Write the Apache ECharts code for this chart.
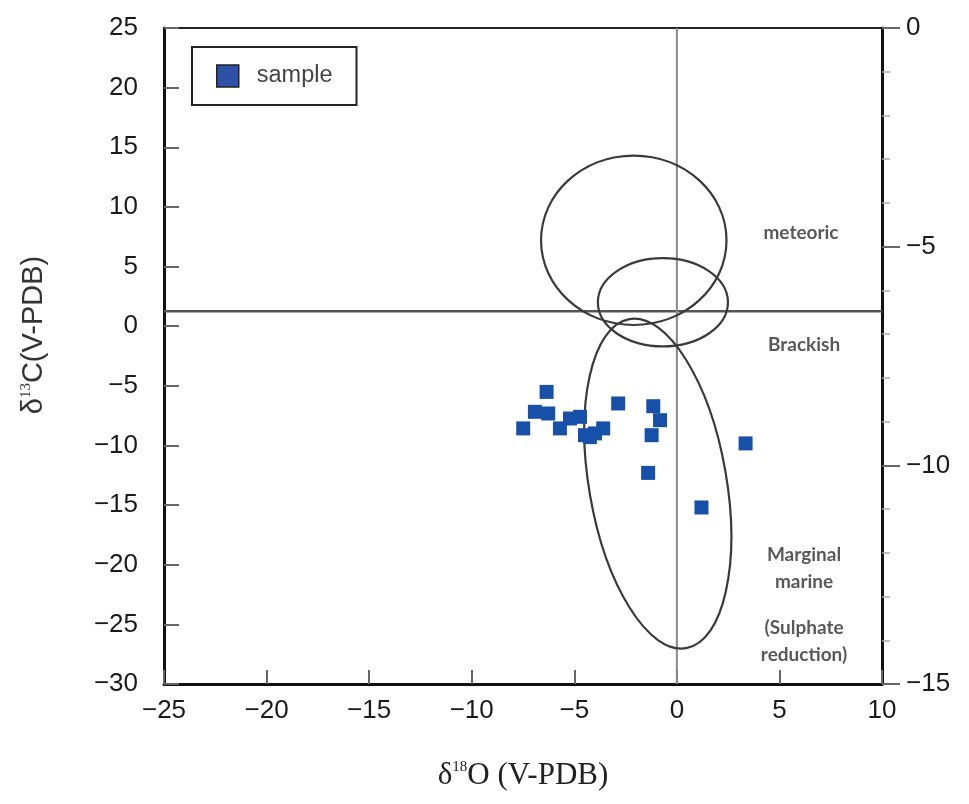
<!DOCTYPE html>
<html>
<head>
<meta charset="utf-8">
<script src="https://cdn.jsdelivr.net/npm/echarts@6/dist/echarts.min.js"></script>
<style>
html,body{margin:0;padding:0;background:#fff;}
#chart{width:969px;height:804px;}
</style>
</head>
<body>
<div id="chart"></div>
<script>
// δ18O (x) and δ13C (y) sample values
const sampleO = [-7.49, -6.92, -6.35, -6.27, -5.70, -5.21, -4.72, -4.48, -4.24, -3.99, -3.59, -2.86, -1.15, -0.82, -1.23, -1.40, 3.35, 1.20];
const sampleC = [-8.57, -7.18, -5.51, -7.32, -8.57, -7.74, -7.60, -9.14, -9.30, -8.99, -8.57, -6.48, -6.71, -7.88, -9.14, -12.30, -9.83, -15.20];

// environment fields (ellipses) in data units
const zoneNames = ['meteoric', 'brackish', 'marginal marine'];
const zoneCenterO = [-2.1, -0.68, -0.93];
const zoneCenterC = [7.2, 2.0, -13.2];
const zoneRadiusO = [4.52, 3.17, 3.35];
const zoneRadiusC = [7.1, 3.7, 14.0];
const zoneTilt = [0, 0, 9.8];

// zone labels
const zoneLabelText = ['meteoric', 'Brackish', 'Marginal\nmarine', '(Sulphate\nreduction)'];
const zoneLabelO = [6.05, 6.2, 6.2, 6.2];
const zoneLabelC = [7.8, -1.6, -20.3, -26.4];

// reference lines
const refLineC = 1.25;
const refLineO = 0;

// axes
const xMin = -25, xMax = 10, xStep = 5;
const yMin = -30, yMax = 25, yStep = 5;
const y2Min = -15, y2Max = 0, y2Step = 5;

const minus = v => String(v).replace('-', '\u2212');

const chart = echarts.init(document.getElementById('chart'), null, {renderer: 'canvas'});

const ellipseData = zoneNames.map((n, i) => [zoneCenterO[i], zoneCenterC[i], zoneRadiusO[i], zoneRadiusC[i], zoneTilt[i]]);

const tickFont = {fontFamily: 'Liberation Sans', fontSize: 26, color: '#1a1a1a'};

const option = {
  backgroundColor: '#fff',
  animation: false,
  grid: {left: 164, right: 87, top: 28, bottom: 120, show: true, borderColor: '#222', borderWidth: 2},
  legend: {
    data: ['sample'],
    left: 192, top: 47,
    padding: [17, 24, 17, 24],
    borderColor: '#222', borderWidth: 2, borderRadius: 0,
    icon: 'rect', itemWidth: 22, itemHeight: 22,
    itemStyle: {color: '#2e50a8', borderColor: '#222', borderWidth: 1.5},
    textStyle: {fontFamily: 'Liberation Sans', fontSize: 23.5, color: '#444', padding: [0, 0, 0, 13]}
  },
  xAxis: {
    type: 'value', min: xMin, max: xMax, interval: xStep,
    name: '{a|\u03b4}{s|18}{a|O (V-PDB)}',
    nameLocation: 'middle', nameGap: 76,
    nameTextStyle: {
      rich: {
        a: {fontFamily: 'Liberation Serif', fontSize: 31, color: '#222'},
        s: {fontFamily: 'Liberation Serif', fontSize: 15, color: '#222', padding: [0, 0, 16, 0]}
      }
    },
    axisLine: {show: true, onZero: false, lineStyle: {color: '#111', width: 3}},
    axisTick: {show: true, inside: true, length: 14, lineStyle: {color: '#666', width: 2}},
    axisLabel: Object.assign({margin: 14, formatter: minus}, tickFont),
    splitLine: {show: false}
  },
  yAxis: [{
    type: 'value', min: yMin, max: yMax, interval: yStep,
    name: '{a|\u03b4}{s|13}{a|C(V-PDB)}',
    nameLocation: 'middle', nameGap: 116, nameRotate: 90,
    nameTextStyle: {
      padding: [0, 0, 0, 42],
      rich: {
        a: {fontFamily: 'Liberation Sans', fontSize: 29, color: '#333'},
        s: {fontFamily: 'Liberation Serif', fontSize: 15, color: '#333', padding: [0, 0, 14, 0]}
      }
    },
    axisLine: {show: true, onZero: false, lineStyle: {color: '#111', width: 3}},
    axisTick: {show: true, inside: true, length: 15, lineStyle: {color: '#666', width: 2}},
    axisLabel: Object.assign({margin: 26, formatter: minus}, tickFont),
    splitLine: {show: false}
  }, {
    type: 'value', min: y2Min, max: y2Max, interval: y2Step, position: 'right',
    axisLine: {show: true, onZero: false, lineStyle: {color: '#111', width: 3}},
    axisTick: {show: true, inside: false, length: 18, lineStyle: {color: '#666', width: 2}},
    minorTick: {show: true, splitNumber: 5, length: 8, lineStyle: {color: '#aaa', width: 1.5}},
    axisLabel: Object.assign({margin: 24, formatter: minus}, tickFont),
    splitLine: {show: false}
  }],
  series: [
    {
      name: 'refH', type: 'line', silent: true, symbol: 'none',
      data: [[xMin, refLineC], [xMax, refLineC]],
      lineStyle: {color: '#555', width: 2.5}, z: 2
    },
    {
      name: 'refV', type: 'line', silent: true, symbol: 'none',
      data: [[refLineO, yMin], [refLineO, yMax]],
      lineStyle: {color: '#888', width: 2}, z: 2
    },
    {
      name: 'zones', type: 'custom', silent: true, z: 3,
      data: ellipseData,
      renderItem: function (params, api) {
        const c = api.coord([api.value(0), api.value(1)]);
        const s = api.size([api.value(2), api.value(3)]);
        return {
          type: 'ellipse',
          x: c[0], y: c[1],
          rotation: api.value(4) * Math.PI / 180,
          shape: {cx: 0, cy: 0, rx: s[0], ry: s[1]},
          style: {fill: 'none', stroke: '#3a3a3a', lineWidth: 2.2}
        };
      }
    },
    {
      name: 'sample', type: 'scatter', symbol: 'rect', symbolSize: 14, z: 5,
      itemStyle: {color: '#1650a8', opacity: 1},
      data: sampleO.map((v, i) => [v, sampleC[i]])
    },
    {
      name: 'zoneLabels', type: 'scatter', symbolSize: 0, silent: true, z: 4,
      data: zoneLabelText.map((t, i) => ({value: [zoneLabelO[i], zoneLabelC[i]], name: t})),
      label: {
        show: true, position: 'inside', formatter: p => p.name,
        fontFamily: 'Lato', fontWeight: 'bold', fontSize: 19, color: '#2e2e2e', lineHeight: 27, align: 'center'
      }
    }
  ]
};
chart.setOption(option);
</script>
</body>
</html>
